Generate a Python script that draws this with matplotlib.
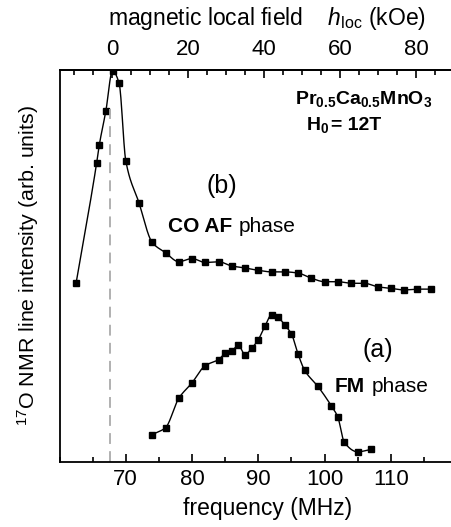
import numpy as np
import matplotlib
matplotlib.use("Agg")
import matplotlib.pyplot as plt
from matplotlib.ticker import MultipleLocator

plt.rcParams['font.family'] = ['Liberation Sans', 'DejaVu Sans']
plt.rcParams['mathtext.fontset'] = 'custom'
plt.rcParams['mathtext.rm'] = 'Liberation Sans'
plt.rcParams['mathtext.it'] = 'Liberation Sans:italic'
plt.rcParams['mathtext.bf'] = 'Liberation Sans:bold'

# ---- data ----
freq_b = [62.5, 65.6, 66.0, 67.0, 68.0, 69.0, 70, 72, 74, 76, 78, 80, 82, 84, 86, 88,
          90, 92, 94, 96, 98, 100, 102, 104, 106, 108, 110, 112, 114, 116]
int_b = [0.456, 0.762, 0.808, 0.896, 0.998, 0.966, 0.769, 0.661, 0.560, 0.534, 0.511,
         0.519, 0.509, 0.511, 0.500, 0.495, 0.489, 0.485, 0.485, 0.482, 0.469, 0.460,
         0.460, 0.456, 0.456, 0.447, 0.443, 0.439, 0.441, 0.441]

freq_a = [74, 76, 78, 80, 82, 84, 85, 86, 87, 88, 89, 90, 91, 92, 93, 94, 95, 96, 97,
          99, 101, 102, 103, 105, 107]
int_a = [0.070, 0.0875, 0.1625, 0.202, 0.246, 0.261, 0.277, 0.283, 0.298, 0.274, 0.290,
         0.312, 0.346, 0.375, 0.369, 0.349, 0.327, 0.276, 0.234, 0.193, 0.144, 0.115,
         0.050, 0.026, 0.032]

f_zero = 67.95      # frequency at zero local field (MHz)
gamma = 0.574       # MHz per kOe
f_ref = 67.6        # dashed reference line

bottom_ticks = [70, 80, 90, 100, 110]
top_ticks = [0, 20, 40, 60, 80]


def pchip(x, y, xs):
    x = np.asarray(x, float); y = np.asarray(y, float)
    h = np.diff(x); d = np.diff(y) / h
    n = len(x); m = np.zeros(n)
    for k in range(1, n - 1):
        if d[k - 1] * d[k] > 0:
            w1 = 2 * h[k] + h[k - 1]; w2 = h[k] + 2 * h[k - 1]
            m[k] = (w1 + w2) / (w1 / d[k - 1] + w2 / d[k])
    m[0] = d[0]; m[-1] = d[-1]
    idx = np.clip(np.searchsorted(x, xs) - 1, 0, n - 2)
    t = (xs - x[idx]) / h[idx]
    h00 = 2 * t**3 - 3 * t**2 + 1; h10 = t**3 - 2 * t**2 + t
    h01 = -2 * t**3 + 3 * t**2; h11 = t**3 - t**2
    return h00 * y[idx] + h10 * h[idx] * m[idx] + h01 * y[idx + 1] + h11 * h[idx] * m[idx + 1]


W, H = 451, 527
fig = plt.figure(figsize=(W / 100, H / 100), dpi=100)
scale = 6.625  # px per MHz
left_px, right_px, top_px, bot_px = 59.5, 475.0, 70, 462
ax = fig.add_axes([left_px / W, 1 - bot_px / H, (right_px - left_px) / W, (bot_px - top_px) / H])
ax.set_xlim(60, 60 + (right_px - left_px) / scale)
ax.set_ylim(0, 1)

for fx, iy in ((freq_b, int_b), (freq_a, int_a)):
    xs = np.linspace(fx[0], fx[-1], 800)
    ax.plot(xs, pchip(fx, iy, xs), color='black', lw=1.0)
    ax.plot(fx, iy, ls='none', marker='s', ms=3.8, color='black')

ax.plot([f_ref, f_ref], [0, 0.9], color='#aaaaaa', lw=1.3, dashes=(6, 4))

for sp in ax.spines.values():
    sp.set_linewidth(1.3)
ax.spines['right'].set_visible(False)
ax.set_yticks([])
ax.set_xticks(bottom_ticks)
ax.xaxis.set_minor_locator(MultipleLocator(5))
ax.tick_params(axis='x', which='major', direction='in', length=6, width=1.2, labelsize=16, pad=5)
ax.tick_params(axis='x', which='minor', direction='in', length=3.5, width=1.2)
ax.set_xlabel('frequency (MHz)', fontsize=16.5, labelpad=5)
ax.set_ylabel('$^{17}$O NMR line intensity (arb. units)', fontsize=15.4, labelpad=13)

sec = ax.secondary_xaxis('top', functions=(lambda f: (f - f_zero) / gamma,
                                            lambda h: f_zero + gamma * h))
sec.set_xticks(top_ticks)
sec.xaxis.set_minor_locator(MultipleLocator(5))
sec.tick_params(axis='x', which='major', direction='in', length=6, width=1.2, labelsize=16, pad=7)
sec.tick_params(axis='x', which='minor', direction='in', length=3.5, width=1.2)
sec.spines['top'].set_linewidth(1.3)
sec.set_xlabel('magnetic local field    $h_{\\mathrm{loc}}$ (kOe)', fontsize=16.5, labelpad=10)

fig.text(295 / W, 1 - 104 / H, '$\\mathbf{Pr_{0.5}Ca_{0.5}MnO_3}$', fontsize=14,
         ha='left', va='baseline')
fig.text(306 / W, 1 - 130 / H, '$\\mathbf{H_0}$', fontsize=14, ha='left', va='baseline')
fig.text(331 / W, 1 - 130 / H, '= 12T', fontsize=14, fontweight='bold', ha='left', va='baseline')

fig.text(222 / W, 1 - 186 / H, '(b)', fontsize=18, ha='center', va='center')
fig.text(168 / W, 1 - 232 / H, 'CO AF', fontsize=15, fontweight='bold', ha='left', va='baseline')
fig.text(239 / W, 1 - 232 / H, 'phase', fontsize=15, ha='left', va='baseline')

fig.text(378 / W, 1 - 350 / H, '(a)', fontsize=18, ha='center', va='center')
fig.text(335 / W, 1 - 392 / H, 'FM', fontsize=15, fontweight='bold', ha='left', va='baseline')
fig.text(372 / W, 1 - 392 / H, 'phase', fontsize=15, ha='left', va='baseline')

fig.savefig('out.png', dpi=100)
